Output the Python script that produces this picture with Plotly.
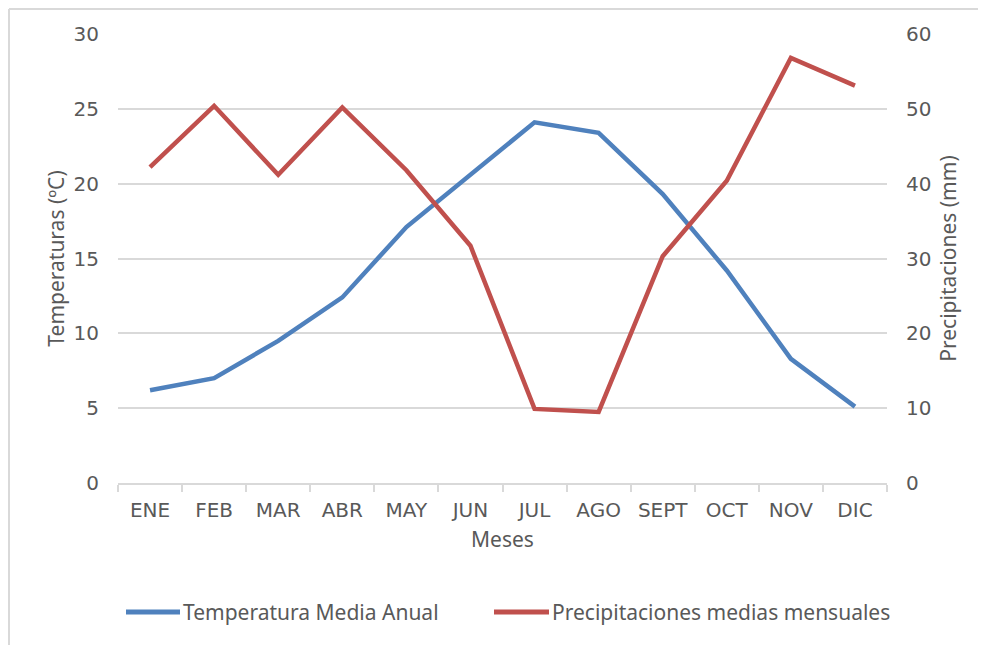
import plotly.graph_objects as go

months = ["ENE", "FEB", "MAR", "ABR", "MAY", "JUN", "JUL", "AGO", "SEPT", "OCT", "NOV", "DIC"]
temperatura = [6.2, 7.0, 9.5, 12.4, 17.1, 20.6, 24.1, 23.4, 19.3, 14.2, 8.3, 5.1]
precipitacion = [42.2, 50.4, 41.2, 50.2, 41.8, 31.7, 9.9, 9.5, 30.3, 40.4, 56.8, 53.1]

BLUE = "#4f81bd"
RED = "#c0504d"
GRID = "#d9d9d9"
TXT = "#595959"
TICKFONT = "DejaVu Sans"
TITLEFONT = "Noto Sans"

OFF = 8  # page body margin
W, H = 986 - OFF, 647 - OFF
L, R, T, B = 118 - OFF, 887 - OFF, 34 - OFF, 483 - OFF

def px(x):
    return (x - OFF - L) / (R - L)

def py(y):
    return (B - (y - OFF)) / (B - T)

fig = go.Figure()
fig.add_trace(go.Scatter(x=months, y=temperatura, mode="lines", name="Temperatura Media Anual",
                         line=dict(color=BLUE, width=4.5), yaxis="y"))
fig.add_trace(go.Scatter(x=months, y=precipitacion, mode="lines", name="Precipitaciones medias mensuales",
                         line=dict(color=RED, width=4.5), yaxis="y2"))

fig.update_layout(
    width=W, height=H,
    margin=dict(l=L, r=W - R, t=T, b=H - B),
    paper_bgcolor="white", plot_bgcolor="white",
    showlegend=False,
    xaxis=dict(type="category", range=[-0.5, 11.5], showline=True, linecolor=GRID, linewidth=1.5,
               ticks="outside", tickson="boundaries", ticklen=7, tickcolor=GRID, tickwidth=1.5,
               showgrid=False, ticklabelstandoff=8,
               tickfont=dict(family=TICKFONT, size=20, color=TXT),
               title=dict(text="Meses", font=dict(family=TITLEFONT, size=21, color=TXT), standoff=12),
               zeroline=False),
    yaxis=dict(range=[0, 30], dtick=5, showgrid=True, gridcolor=GRID, gridwidth=1.5,
               zeroline=False, showline=False, ticks="", ticklabelstandoff=18,
               tickfont=dict(family=TICKFONT, size=20, color=TXT),
               title=dict(text="Temperaturas (ºC)", font=dict(family=TITLEFONT, size=21, color=TXT), standoff=3)),
    yaxis2=dict(range=[0, 60], dtick=10, overlaying="y", side="right", showgrid=False,
                zeroline=False, showline=False, ticks="", ticklabelstandoff=18,
                tickfont=dict(family=TICKFONT, size=20, color=TXT),
                title=dict(text="Precipitaciones (mm)", font=dict(family=TITLEFONT, size=21, color=TXT), standoff=10)),
)

shapes = [
    dict(type="line", xref="paper", yref="paper", x0=px(9), x1=px(9), y0=py(9), y1=py(645),
         line=dict(color=GRID, width=2)),
    dict(type="line", xref="paper", yref="paper", x0=px(9), x1=px(995), y0=py(9), y1=py(9),
         line=dict(color=GRID, width=2)),
]
legend_items = [("Temperatura Media Anual", BLUE, 126, 180), ("Precipitaciones medias mensuales", RED, 494, 549)]
annotations = []
for text, color, x0, x1 in legend_items:
    shapes.append(dict(type="line", xref="paper", yref="paper", x0=px(x0), x1=px(x1), y0=py(612), y1=py(612),
                       line=dict(color=color, width=5)))
    annotations.append(dict(text=text, xref="paper", yref="paper", x=px(x1 + 1), y=py(612),
                            xanchor="left", yanchor="middle", showarrow=False,
                            font=dict(family=TITLEFONT, size=21, color=TXT)))
fig.update_layout(shapes=shapes, annotations=annotations)

fig.write_html("out.html")
